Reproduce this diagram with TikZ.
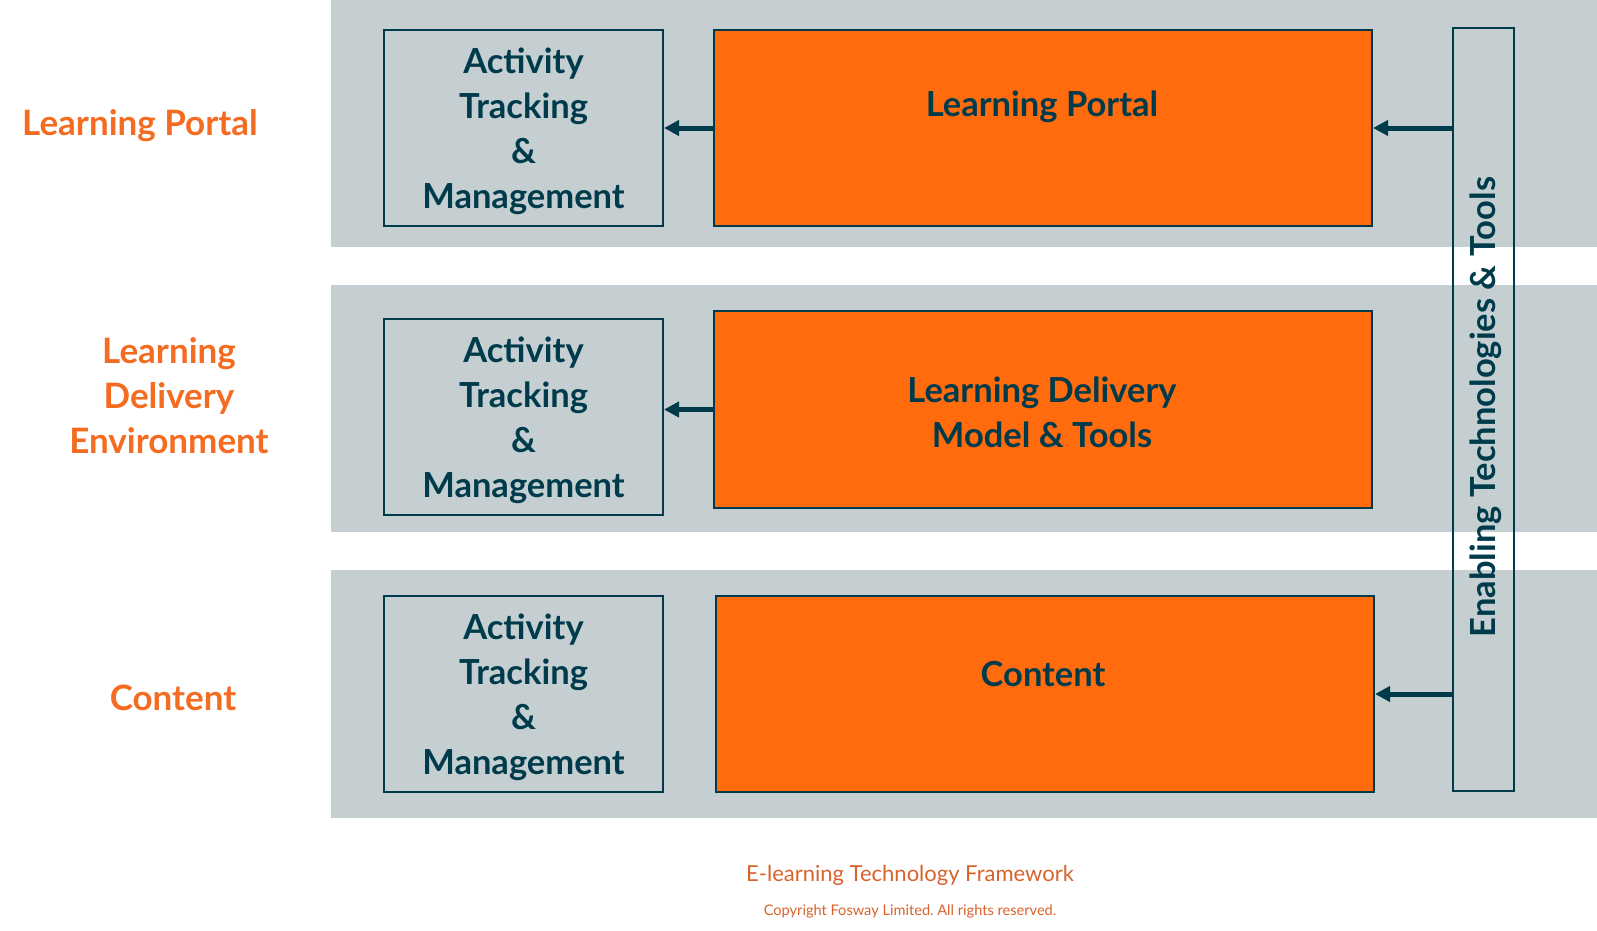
\documentclass[tikz,border=0pt]{standalone}
\usepackage{fontspec}
\setmainfont{Lato}
\frenchspacing
\usetikzlibrary{arrows.meta}
\definecolor{fwteal}{HTML}{003B4C}
\definecolor{fworange}{HTML}{FF6B0D}
\definecolor{fwlabel}{HTML}{F36C21}
\definecolor{fwcaption}{HTML}{D9622B}
\definecolor{fwgrey}{HTML}{C5CFD1}
\newcommand{\boxfont}{\fontsize{34.5}{45}\selectfont\bfseries}
\newcommand{\sidefont}{\fontsize{35}{45}\selectfont\bfseries}
\newcommand{\titlefont}{\fontsize{22}{26}\selectfont}
\newcommand{\notefont}{\fontsize{14.6}{18}\selectfont}
\tikzset{
  atmbox/.style={draw=fwteal,line width=2pt,fill=fwgrey,anchor=north west,
    minimum width=279,minimum height=196,inner sep=0pt,align=center,
    text=fwteal,font=\boxfont},
  layerbox/.style={draw=fwteal,line width=2pt,fill=fworange,anchor=north west,
    minimum width=658,inner sep=0pt,align=center,text=fwteal,font=\boxfont},
  sidelabel/.style={inner sep=0pt,align=center,text=fwlabel,font=\sidefont},
  feed/.style={draw=fwteal,line width=5pt,-{Triangle[length=15pt,width=15pt]}}
}
\begin{document}
\begin{tikzpicture}[x=1pt,y=-1pt]
  \useasboundingbox (0,0) rectangle (1597,930);

  % grey layer bands
  \fill[fwgrey] (331,0) rectangle (1597,246.5);
  \fill[fwgrey] (331,285) rectangle (1597,531.5);
  \fill[fwgrey] (331,570) rectangle (1597,817.5);

  % layer names
  \node[sidelabel] (lportal) at (140,126) {Learning Portal};
  \node[sidelabel] (ldelivery) at (169,396) {Learning\\Delivery\\Environment};
  \node[sidelabel] (lcontent) at (173,698) {Content};

  % tracking boxes
  \node[atmbox] (atm1) at (383,29) {\strut Activity\\Tracking\\\&\\Management};
  \node[atmbox] (atm2) at (383,318) {\strut Activity\\Tracking\\\&\\Management};
  \node[atmbox] (atm3) at (383,595) {\strut Activity\\Tracking\\\&\\Management};

  % orange layer boxes
  \node[layerbox,minimum height=196] (portal) at (713,29) {};
  \node[text=fwteal,font=\boxfont] at (1042,107) {Learning Portal};
  \node[layerbox,minimum height=197] (delivery) at (713,310) {};
  \node[text=fwteal,font=\boxfont,align=center] at (1042,412) {Learning Delivery\\Model \& Tools};
  \node[layerbox,minimum height=196] (content) at (715,595) {};
  \node[text=fwteal,font=\boxfont] at (1043,674) {Content};

  % enabling column
  \node[draw=fwteal,line width=2pt,anchor=north west,minimum width=61,
    minimum height=763,inner sep=0pt] (enabling) at (1452,27) {};
  \node[rotate=90,text=fwteal,font=\boxfont,inner sep=0pt] (enabletext)
    at (1486,407) {Enabling Technologies \& Tools};

  % connectors
  \draw[feed] (portal.west) -- (atm1.east |- portal.west);
  \draw[feed] (delivery.west) -- (atm2.east |- delivery.west);
  \draw[feed] (enabling.west |- portal.east) -- (portal.east);
  \draw[feed] (enabling.west |- content.east) -- (content.east);

  % caption
  \node[text=fwcaption,font=\titlefont] (title) at (910,875) {E-learning Technology Framework};
  \node[text=fwcaption,font=\notefont] (note) at (910,911) {Copyright Fosway Limited. All rights reserved.};
\end{tikzpicture}
\end{document}
